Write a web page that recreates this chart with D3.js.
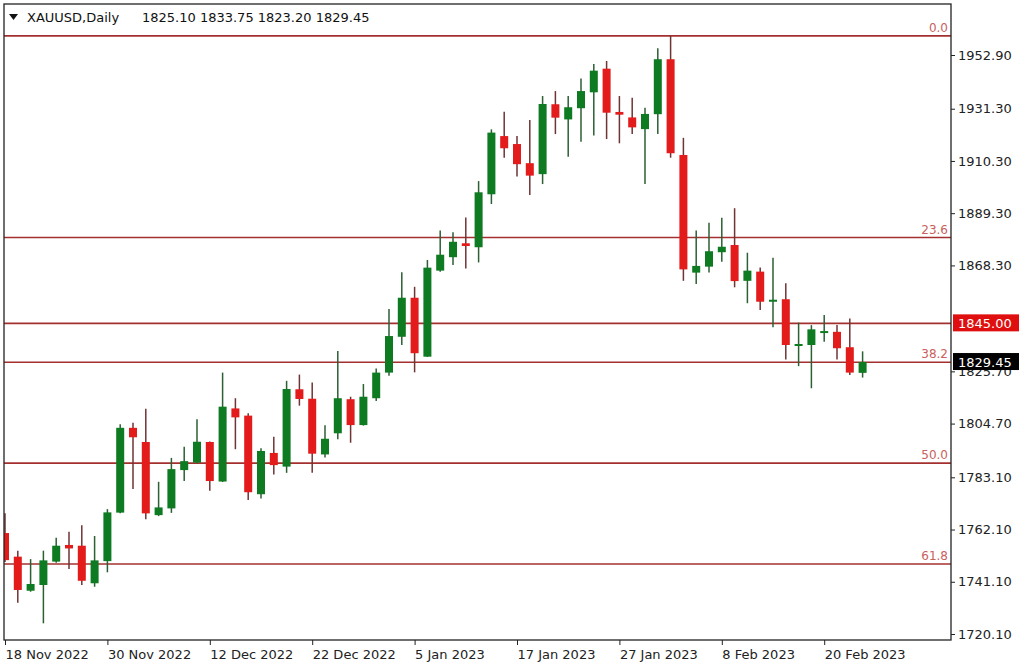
<!DOCTYPE html>
<html>
<head>
<meta charset="utf-8">
<script src="https://cdn.jsdelivr.net/npm/d3@7"></script>
<style>
  html, body { margin: 0; padding: 0; background: #fff; }
  svg { display: block; }
  text { font-family: "DejaVu Sans", Verdana, sans-serif; }
</style>
</head>
<body>
<svg id="chart" width="1024" height="672"></svg>
<script>
// ---------------- DATA ----------------
const symbolTitle = "XAUUSD,Daily";
const headerValues = ["1825.10", "1833.75", "1823.20", "1829.45"];

const dates = [
  "2022-11-18","2022-11-21","2022-11-22","2022-11-23","2022-11-24","2022-11-25","2022-11-28","2022-11-29",
  "2022-11-30","2022-12-01","2022-12-02","2022-12-05","2022-12-06","2022-12-07","2022-12-08","2022-12-09",
  "2022-12-12","2022-12-13","2022-12-14","2022-12-15","2022-12-16","2022-12-19","2022-12-20","2022-12-21",
  "2022-12-22","2022-12-23","2022-12-27","2022-12-28","2022-12-29","2022-12-30","2023-01-03","2023-01-04",
  "2023-01-05","2023-01-06","2023-01-09","2023-01-10","2023-01-11","2023-01-12","2023-01-13","2023-01-16",
  "2023-01-17","2023-01-18","2023-01-19","2023-01-20","2023-01-23","2023-01-24","2023-01-25","2023-01-26",
  "2023-01-27","2023-01-30","2023-01-31","2023-02-01","2023-02-02","2023-02-03","2023-02-06","2023-02-07",
  "2023-02-08","2023-02-09","2023-02-10","2023-02-13","2023-02-14","2023-02-15","2023-02-16","2023-02-17",
  "2023-02-20","2023-02-21","2023-02-22","2023-02-23"
];
const openP = [
  1760.7,1751.2,1737.5,1739.8,1749.2,1755.9,1755.6,1740.5,
  1749.4,1768.9,1803.0,1797.3,1767.9,1770.6,1786.0,1789.0,
  1797.3,1781.4,1810.8,1807.9,1776.3,1792.9,1787.4,1818.5,
  1814.7,1792.3,1800.8,1814.5,1804.1,1814.9,1825.2,1839.6,
  1855.3,1831.6,1866.2,1871.6,1877.2,1875.6,1896.9,1920.3,
  1917.1,1909.4,1905.0,1933.1,1927.0,1931.5,1937.9,1947.4,
  1930.0,1927.8,1923.1,1929.1,1951.2,1912.7,1865.4,1867.8,
  1873.6,1876.5,1862.1,1865.8,1853.9,1854.7,1836.2,1836.3,
  1841.4,1841.6,1835.4,1825.10
];
const highP = [
  1768.7,1753.6,1750.2,1753.6,1758.8,1761.2,1763.8,1759.5,
  1770.3,1804.4,1805.0,1810.7,1781.3,1790.9,1795.4,1806.4,
  1797.5,1825.2,1814.9,1808.9,1794.8,1799.4,1821.9,1824.4,
  1821.2,1804.0,1833.9,1815.5,1820.6,1826.9,1850.8,1865.5,
  1859.7,1870.5,1882.3,1881.6,1887.6,1902.2,1923.0,1930.1,
  1920.3,1926.8,1936.4,1938.4,1936.4,1943.5,1949.3,1950.5,
  1936.4,1935.7,1931.7,1955.6,1960.6,1919.6,1882.3,1885.5,
  1887.5,1891.3,1873.4,1867.5,1871.4,1861.1,1845.3,1844.3,
  1848.4,1844.3,1847.0,1833.75
];
const lowP = [
  1749.0,1732.7,1737.1,1724.4,1748.7,1746.2,1739.8,1739.1,
  1744.9,1768.7,1778.4,1766.2,1767.5,1768.8,1781.6,1788.8,
  1777.7,1781.2,1794.4,1774.0,1774.6,1784.2,1784.9,1811.9,
  1784.9,1791.1,1798.4,1797.0,1803.9,1813.8,1823.9,1836.3,
  1825.3,1831.5,1865.8,1868.5,1867.1,1869.5,1893.0,1911.6,
  1904.0,1896.6,1901.0,1921.1,1912.0,1918.0,1920.5,1919.1,
  1917.4,1921.1,1901.0,1921.1,1911.6,1862.1,1860.8,1865.4,
  1869.8,1859.5,1853.1,1850.4,1843.4,1830.5,1827.8,1818.9,
  1837.6,1830.5,1824.2,1823.20
];
const closeP = [
  1749.8,1737.8,1740.2,1749.7,1755.6,1754.5,1741.5,1749.7,
  1769.0,1803.0,1799.2,1768.6,1771.0,1786.4,1789.6,1797.4,
  1781.6,1811.5,1807.2,1777.1,1793.7,1788.0,1818.6,1814.6,
  1792.6,1798.6,1814.9,1804.1,1815.5,1825.2,1839.9,1855.3,
  1833.0,1867.4,1872.6,1877.8,1876.1,1897.7,1921.7,1915.4,
  1909.0,1904.4,1933.2,1927.7,1931.9,1938.4,1946.6,1929.7,
  1928.9,1923.8,1929.2,1951.2,1913.4,1866.7,1868.1,1874.0,
  1875.8,1862.0,1866.2,1853.7,1854.5,1836.3,1836.7,1842.6,
  1841.9,1835.0,1825.2,1829.45
];

const yTickValues = [1952.90, 1931.30, 1910.30, 1889.30, 1868.30, 1825.70, 1804.70, 1783.10, 1762.10, 1741.10, 1720.10];
const xTickDates = ["2022-11-18","2022-11-30","2022-12-12","2022-12-22","2023-01-05","2023-01-17","2023-01-27","2023-02-08","2023-02-20"];
const xTickLabels = ["18 Nov 2022","30 Nov 2022","12 Dec 2022","22 Dec 2022","5 Jan 2023","17 Jan 2023","27 Jan 2023","8 Feb 2023","20 Feb 2023"];

const fibHigh = 1960.6;
const fibLow = 1617.0;
const fibLevels = [0, 23.6, 38.2, 50, 61.8];
const fibLabels = ["0.0", "23.6", "38.2", "50.0", "61.8"];
const levelLine = 1845.00;
const lastPrice = 1829.45;

// ---------------- LAYOUT ----------------
const svg = d3.select("#chart");
const plot = { left: 4, right: 951, top: 4, bottom: 640 };

const x = d3.scalePoint().domain(dates).range([5, 862.6]);
const y = d3.scaleLinear().domain([1720.1, 1952.9]).range([634, 55]);

const colUp = "#0e7a21", colDn = "#e41b1b";
const wickUp = "#2c5f33", wickDn = "#6f3434";
const lineCol = "#a3302f";

svg.append("rect").attr("width", 1024).attr("height", 672).attr("fill", "#fff");

svg.append("clipPath").attr("id", "clip")
  .append("rect").attr("x", plot.left).attr("y", plot.top)
  .attr("width", plot.right - plot.left).attr("height", plot.bottom - plot.top);

const g = svg.append("g").attr("clip-path", "url(#clip)");

// Fibonacci lines
const fibPrices = fibLevels.map(l => fibHigh - (fibHigh - fibLow) * l / 100);
g.selectAll("line.fib").data(fibPrices).enter().append("line")
  .attr("x1", plot.left).attr("x2", plot.right)
  .attr("y1", d => y(d)).attr("y2", d => y(d))
  .attr("stroke", lineCol).attr("stroke-width", 1.6);
g.selectAll("text.fib").data(fibPrices).enter().append("text")
  .attr("x", plot.right - 3).attr("y", d => y(d) - 4)
  .attr("text-anchor", "end").attr("font-size", 12)
  .attr("fill", "#c9605c").text((d, i) => fibLabels[i]);

// 1845 line
g.append("line").attr("x1", plot.left).attr("x2", plot.right)
  .attr("y1", y(levelLine)).attr("y2", y(levelLine))
  .attr("stroke", lineCol).attr("stroke-width", 1.6);

// Candles
const candles = dates.map((d, i) => ({ d, o: openP[i], h: highP[i], l: lowP[i], c: closeP[i] }));
const cg = g.selectAll("g.candle").data(candles).enter().append("g");
cg.append("line")
  .attr("x1", d => x(d.d)).attr("x2", d => x(d.d))
  .attr("y1", d => y(d.h)).attr("y2", d => y(d.l))
  .attr("stroke", d => d.c >= d.o ? wickUp : wickDn).attr("stroke-width", 1.5);
cg.append("rect")
  .attr("x", d => x(d.d) - 4).attr("width", 8)
  .attr("y", d => y(Math.max(d.o, d.c)))
  .attr("height", d => Math.max(2, Math.abs(y(d.o) - y(d.c))))
  .attr("fill", d => d.c >= d.o ? colUp : colDn);

// Frame
svg.append("rect").attr("x", plot.left).attr("y", plot.top)
  .attr("width", plot.right - plot.left).attr("height", plot.bottom - plot.top)
  .attr("fill", "none").attr("stroke", "#222").attr("stroke-width", 1.3);

// Right axis
const yAxis = d3.axisRight(y).tickValues(yTickValues).tickFormat(d3.format(".2f")).tickSize(4).tickPadding(3);
const ya = svg.append("g").attr("transform", `translate(${plot.right},0)`).call(yAxis);
ya.select(".domain").remove();
ya.selectAll(".tick line").attr("stroke", "#222");
ya.selectAll(".tick text").attr("font-size", 13).attr("font-family", "DejaVu Sans, Verdana, sans-serif").attr("fill", "#222");

// Bottom axis
const xAxis = d3.axisBottom(x).tickValues(xTickDates).tickFormat((d, i) => xTickLabels[i]).tickSize(5).tickPadding(5);
const xa = svg.append("g").attr("transform", `translate(0,${plot.bottom})`).call(xAxis);
xa.select(".domain").remove();
xa.selectAll(".tick line").attr("stroke", "#222");
xa.selectAll(".tick text").attr("font-size", 13).attr("font-family", "DejaVu Sans, Verdana, sans-serif")
  .attr("fill", "#222").attr("text-anchor", "start").attr("x", 0);

// Price labels
function priceTag(p, fill) {
  const yy = y(p);
  svg.append("rect").attr("x", 953).attr("y", yy - 9).attr("width", 66).attr("height", 17).attr("fill", fill);
  svg.append("text").attr("x", 958).attr("y", yy + 4.5).attr("font-size", 13)
    .attr("fill", "#fff").text(d3.format(".2f")(p));
}
priceTag(levelLine, "#e00f0f");
priceTag(lastPrice, "#000");

// Header
svg.append("path").attr("d", "M9,14 L18,14 L13.5,20 Z").attr("fill", "#111");
svg.append("text").attr("x", 27).attr("y", 22).attr("font-size", 13).attr("fill", "#111").text(symbolTitle);
svg.append("text").attr("x", 142).attr("y", 22).attr("font-size", 13).attr("fill", "#111").text(headerValues.join(" "));
</script>
</body>
</html>
